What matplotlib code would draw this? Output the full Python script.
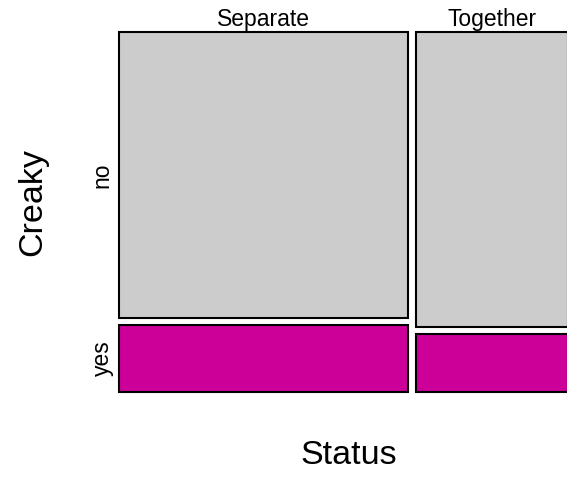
import numpy as np
import matplotlib
matplotlib.use("Agg")
import matplotlib.pyplot as plt
from matplotlib.patches import Rectangle

status = ["Separate", "Together"]
creaky = ["no", "yes"]
count_no = [85, 46]
count_yes = [20, 9]

col_no = "#cccccc"
col_yes = "#cc0099"

plt.rcParams['font.family'] = ['Liberation Sans', 'DejaVu Sans']

fig = plt.figure(figsize=(5.67, 4.78), dpi=100)
ax = fig.add_axes([119 / 567, 86 / 478, 449 / 567, 360 / 478])
ax.set_xlim(0, 1)
ax.set_ylim(0, 1)
ax.axis("off")

no = np.array(count_no, dtype=float)
yes = np.array(count_yes, dtype=float)
totals = no + yes
gap_x = 8 / 449
gap_y = 7 / 360
widths = totals / totals.sum() * (1 - gap_x * (len(status) - 1))

x0 = 0.0
for i in range(len(status)):
    h_yes = yes[i] / totals[i] * (1 - gap_y)
    h_no = no[i] / totals[i] * (1 - gap_y)
    ax.add_patch(Rectangle((x0, 0), widths[i], h_yes, facecolor=col_yes,
                           edgecolor="black", lw=1.5, clip_on=False))
    ax.add_patch(Rectangle((x0, h_yes + gap_y), widths[i], h_no, facecolor=col_no,
                           edgecolor="black", lw=1.5, clip_on=False))
    ax.text(x0 + widths[i] / 2, 1 + 6 / 360, status[i], ha="center", va="baseline",
            fontsize=16.5)
    if i == 0:
        ax.text(-17 / 449, h_yes / 2, creaky[1], rotation=90, ha="center",
                va="center", fontsize=16.5)
        ax.text(-17 / 449, h_yes + gap_y + h_no / 2, creaky[0], rotation=90,
                ha="center", va="center", fontsize=16.5)
    x0 += widths[i] + gap_x

fig.text(349 / 567, 1 - 456 / 478, "Status", ha="center", va="center", fontsize=24.5)
fig.text(33 / 567, 1 - 202 / 478, "Creaky", ha="center", va="center",
         rotation=90, fontsize=24.5)

fig.savefig("out.png", dpi=100)
